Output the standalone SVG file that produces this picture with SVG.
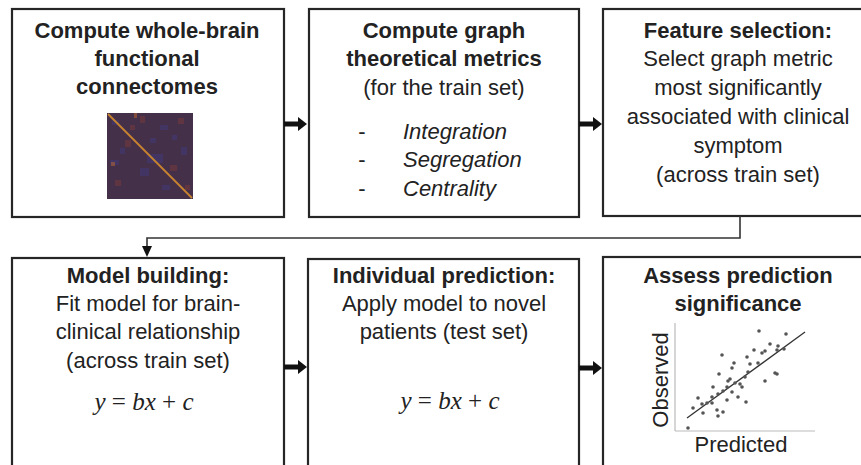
<svg xmlns="http://www.w3.org/2000/svg" width="861" height="465" viewBox="0 0 861 465">
<defs>
<style>
.box{fill:#fff;stroke:#262626;stroke-width:2.2}
.t{font-family:"Liberation Sans",Arial,sans-serif;font-size:22px;fill:#222;text-anchor:middle}
.b{font-weight:bold}
.i{font-style:italic}
.eq{font-family:"Liberation Serif","Times New Roman",serif;font-size:25px;fill:#222;text-anchor:middle}
.arrow{stroke:#111;stroke-width:5;fill:none}
.head{fill:#111}
.conn{stroke:#333;stroke-width:1.6;fill:none}
.dot{fill:#555}
.ax{stroke:#bbb;stroke-width:1.2}
.mb{fill:#3d3b86;opacity:0.45}
.mr{fill:#8a3e36;opacity:0.4}
</style>
</defs>
<rect width="861" height="465" fill="#fff"/>

<g id="node1">
<rect class="box" x="12" y="9" width="272" height="208"/>
<text class="t b" x="147" y="38">Compute whole-brain</text>
<text class="t b" x="147" y="66">functional</text>
<text class="t b" x="147" y="94">connectomes</text>
<g id="matrix">
<rect x="107" y="113" width="86" height="86" fill="#45304a"/>
<rect class="mb" x="112" y="120" width="7" height="5"/>
<rect class="mr" x="140" y="116" width="5" height="7"/>
<rect class="mb" x="160" y="125" width="8" height="5"/>
<rect class="mr" x="178" y="118" width="6" height="6"/>
<rect class="mr" x="125" y="140" width="6" height="7"/>
<rect class="mb" x="150" y="138" width="6" height="5"/>
<rect class="mb" x="110" y="160" width="9" height="5"/>
<rect class="mb" x="147" y="154" width="16" height="9"/>
<rect class="mb" x="140" y="168" width="9" height="8"/>
<rect class="mr" x="170" y="165" width="7" height="6"/>
<rect class="mr" x="115" y="180" width="6" height="6"/>
<rect class="mb" x="162" y="185" width="8" height="5"/>
<rect class="mb" x="181" y="147" width="6" height="8"/>
<rect class="mr" x="130" y="125" width="5" height="5"/>
<rect class="mb" x="120" y="148" width="5" height="6"/>
<rect class="mr" x="185" y="185" width="5" height="5"/>
<rect class="mb" x="172" y="135" width="5" height="5"/>
<rect x="111" y="162" width="4" height="4" fill="#c06a30" opacity="0.5"/>
<rect x="134" y="113" width="3" height="5" fill="#c06a30" opacity="0.5"/>
<line x1="108" y1="114" x2="192" y2="198" stroke="#c8842e" stroke-width="1.8"/>
</g>
</g>

<g id="node2">
<rect class="box" x="309" y="9" width="270" height="208"/>
<text class="t b" x="444" y="38">Compute graph</text>
<text class="t b" x="444" y="66">theoretical metrics</text>
<text class="t" x="444" y="95">(for the train set)</text>
<text class="t" x="362" y="139">-</text>
<text class="t i" x="403" y="139" style="text-anchor:start">Integration</text>
<text class="t" x="362" y="167">-</text>
<text class="t i" x="403" y="167" style="text-anchor:start">Segregation</text>
<text class="t" x="362" y="196">-</text>
<text class="t i" x="403" y="196" style="text-anchor:start">Centrality</text>
</g>

<g id="node3">
<rect class="box" x="603" y="9" width="270" height="207"/>
<text class="t b" x="738" y="38">Feature selection:</text>
<text class="t" x="738" y="66">Select graph metric</text>
<text class="t" x="738" y="95">most significantly</text>
<text class="t" x="738" y="124">associated with clinical</text>
<text class="t" x="738" y="153">symptom</text>
<text class="t" x="738" y="182">(across train set)</text>
</g>

<g id="node4">
<rect class="box" x="12" y="258" width="272" height="212"/>
<text class="t b" x="148" y="283">Model building:</text>
<text class="t" x="148" y="311">Fit model for brain-</text>
<text class="t" x="148" y="339">clinical relationship</text>
<text class="t" x="148" y="368">(across train set)</text>
<text class="eq" x="144" y="410"><tspan font-style="italic">y</tspan> = <tspan font-style="italic">bx</tspan> + <tspan font-style="italic">c</tspan></text>
</g>

<g id="node5">
<rect class="box" x="308" y="259" width="271" height="211"/>
<text class="t b" x="444" y="283">Individual prediction:</text>
<text class="t" x="444" y="311">Apply model to novel</text>
<text class="t" x="444" y="339">patients (test set)</text>
<text class="eq" x="450" y="409"><tspan font-style="italic">y</tspan> = <tspan font-style="italic">bx</tspan> + <tspan font-style="italic">c</tspan></text>
</g>

<g id="node6">
<rect class="box" x="603" y="257" width="270" height="213"/>
<text class="t b" x="738" y="283">Assess prediction</text>
<text class="t b" x="738" y="311">significance</text>
<g id="scatter">
<line class="ax" x1="675" y1="323" x2="675" y2="431"/>
<line class="ax" x1="675" y1="431" x2="815" y2="431"/>
<line x1="687" y1="418" x2="805" y2="332" stroke="#333" stroke-width="1.3"/>
<g class="dot">
<circle cx="759" cy="331" r="1.8"/><circle cx="786" cy="334" r="1.8"/><circle cx="770" cy="344" r="1.8"/>
<circle cx="778" cy="346" r="1.8"/><circle cx="784" cy="349" r="1.8"/><circle cx="777" cy="350" r="1.8"/>
<circle cx="722" cy="355" r="1.8"/><circle cx="754" cy="350" r="1.8"/><circle cx="747" cy="357" r="1.8"/>
<circle cx="762" cy="353" r="1.8"/><circle cx="765" cy="351" r="1.8"/><circle cx="750" cy="364" r="1.8"/>
<circle cx="758" cy="363" r="1.8"/><circle cx="734" cy="363" r="1.8"/><circle cx="732" cy="368" r="1.8"/>
<circle cx="775" cy="373" r="1.8"/><circle cx="777" cy="374" r="1.8"/><circle cx="748" cy="372" r="1.8"/>
<circle cx="719" cy="374" r="1.8"/><circle cx="745" cy="377" r="1.8"/><circle cx="730" cy="379" r="1.8"/>
<circle cx="765" cy="381" r="1.8"/><circle cx="735" cy="383" r="1.8"/><circle cx="742" cy="387" r="1.8"/>
<circle cx="713" cy="387" r="1.8"/><circle cx="727" cy="387" r="1.8"/><circle cx="723" cy="391" r="1.8"/>
<circle cx="732" cy="392" r="1.8"/><circle cx="718" cy="394" r="1.8"/><circle cx="712" cy="397" r="1.8"/>
<circle cx="738" cy="397" r="1.8"/><circle cx="727" cy="400" r="1.8"/><circle cx="698" cy="398" r="1.8"/>
<circle cx="707" cy="403" r="1.8"/><circle cx="712" cy="403" r="1.8"/><circle cx="746" cy="402" r="1.8"/>
<circle cx="717" cy="410" r="1.8"/><circle cx="723" cy="412" r="1.8"/><circle cx="693" cy="408" r="1.8"/>
<circle cx="703" cy="413" r="1.8"/><circle cx="718" cy="416" r="1.8"/><circle cx="688" cy="428" r="1.8"/>
<circle cx="740" cy="384" r="1.8"/><circle cx="728" cy="381" r="1.8"/><circle cx="702" cy="404" r="1.8"/>
</g>
<text class="t" x="0" y="0" transform="translate(668,380) rotate(-90)">Observed</text>
<text class="t" x="741" y="452">Predicted</text>
</g>
</g>

<g id="connectors">
<line class="arrow" x1="284" y1="124" x2="299" y2="124"/>
<polygon class="head" points="298,117 307,124 298,131"/>
<line class="arrow" x1="579" y1="124" x2="594" y2="124"/>
<polygon class="head" points="593,117 602,124 593,131"/>
<line class="arrow" x1="284" y1="367" x2="299" y2="367"/>
<polygon class="head" points="298,360 307,367 298,374"/>
<line class="arrow" x1="579" y1="368" x2="594" y2="368"/>
<polygon class="head" points="593,361 602,368 593,375"/>
<polyline class="conn" points="740,216 740,238 147,238 147,248"/>
<polygon class="head" points="142,246 152,246 147,257"/>
</g>
</svg>
